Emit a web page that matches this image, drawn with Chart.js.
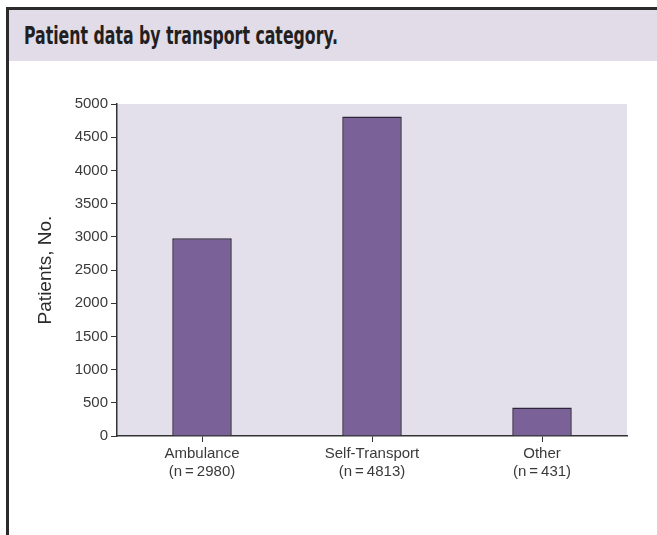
<!DOCTYPE html>
<html>
<head>
<meta charset="utf-8">
<script src="https://cdn.jsdelivr.net/npm/chart.js@4"></script>
<style>
  html, body { margin: 0; padding: 0; background: #fff; }
  body { width: 657px; height: 535px; position: relative; overflow: hidden; }
  .frame {
    position: absolute; left: 6px; top: 7px; right: 0; bottom: 0;
    border-left: 3px solid #2b2b2b; border-top: 3px solid #2b2b2b;
  }
  .header {
    position: absolute; left: 0; top: 0; right: 0; height: 51px;
    background: #e1dce7;
  }
  .header h1 {
    margin: 0; position: absolute; left: 15px; top: 11px;
    font-family: "DejaVu Sans Condensed", "DejaVu Sans", sans-serif;
    font-weight: bold; font-size: 25px; color: #231f20; white-space: nowrap;
    transform: scaleX(0.7); transform-origin: left center;
  }
  .chart-box { position: absolute; left: 0; top: 51px; width: 648px; height: 474px; }
</style>
</head>
<body>
<div class="frame">
  <div class="header"><h1>Patient data by transport category.</h1></div>
  <div class="chart-box"><canvas id="transportChart"></canvas></div>
</div>
<script>
// Chart data
const categories = [['Ambulance', '(n\u2009=\u20092980)'], ['Self-Transport', '(n\u2009=\u20094813)'], ['Other', '(n\u2009=\u2009431)']];
const patients = [2980, 4813, 431];
const yTicks = [0, 500, 1000, 1500, 2000, 2500, 3000, 3500, 4000, 4500, 5000];

// shade behind the plot
const plotBackground = {
    id: 'plotBackground',
    beforeDraw(chart) {
        const { ctx, chartArea } = chart;
        ctx.save();
        ctx.fillStyle = '#e3e0ec';
        ctx.fillRect(chartArea.left, chartArea.top, chartArea.right - chartArea.left, chartArea.bottom - chartArea.top);
        ctx.restore();
    }
};

const ctx = document.getElementById('transportChart').getContext('2d');
new Chart(ctx, {
    type: 'bar',
    data: {
        labels: categories,
        datasets: [{
            data: patients,
            backgroundColor: '#7a6197',
            borderColor: '#2d2438',
            borderWidth: 1.5,
            borderSkipped: 'bottom',
            barPercentage: 0.35,
            categoryPercentage: 1
        }]
    },
    options: {
        responsive: true,
        maintainAspectRatio: false,
        animation: false,
        layout: { padding: { top: 43, right: 30, left: 0, bottom: 0 } },
        plugins: {
            legend: { display: false },
            tooltip: { enabled: false }
        },
        scales: {
            x: {
                grid: { offset: false, drawOnChartArea: false, drawTicks: true, tickLength: 6, color: '#333' },
                border: { color: '#333', width: 1.5 },
                ticks: {
                    color: '#3a3a3a',
                    padding: 2,
                    font: { family: 'Liberation Sans', size: 15, lineHeight: 1.25 },
                    maxRotation: 0
                },
                afterFit(scale) { scale.height = 99; }
            },
            y: {
                min: 0,
                max: 5000,
                afterBuildTicks(scale) { scale.ticks = yTicks.map(v => ({ value: v })); },
                grid: { drawOnChartArea: false, drawTicks: true, tickLength: 6, color: '#333' },
                border: { color: '#333', width: 1.5 },
                ticks: {
                    color: '#3a3a3a',
                    padding: 3,
                    font: { family: 'Liberation Sans', size: 15 },
                    callback: v => String(v)
                },
                title: {
                    display: true,
                    text: 'Patients, No.',
                    color: '#2a2a2a',
                    font: { family: 'Liberation Sans', size: 19 },
                    padding: { top: 25 }
                },
                afterFit(scale) { scale.width = 108; }
            }
        }
    },
    plugins: [plotBackground]
});
</script>
</body>
</html>
